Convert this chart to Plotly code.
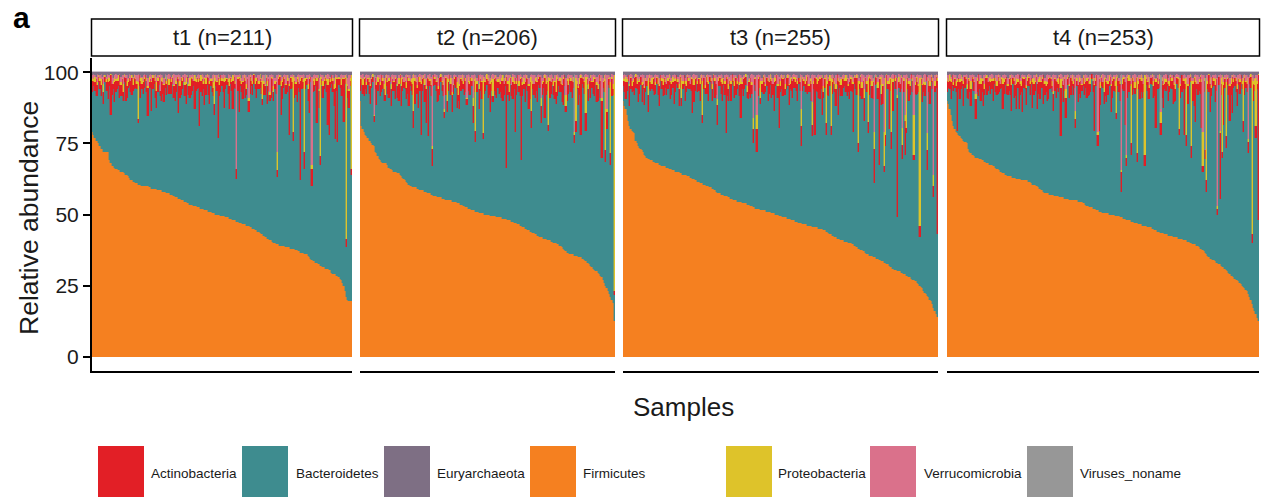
import plotly.graph_objects as go

# ---------------- data ----------------
facets = ["t1 (n=211)", "t2 (n=206)", "t3 (n=255)", "t4 (n=253)"]
phyla = ["Actinobacteria", "Bacteroidetes", "Euryarchaeota", "Firmicutes",
         "Proteobacteria", "Verrucomicrobia", "Viruses_noname"]
colors = {"Actinobacteria": "#E21F26", "Bacteroidetes": "#3E8C8F", "Euryarchaeota": "#7E6F84",
          "Firmicutes": "#F58020", "Proteobacteria": "#DEC32A", "Verrucomicrobia": "#DA718B",
          "Viruses_noname": "#979797"}

firm_t1 = [79,78,77,76,76,75,74,73,73,72, 72,72,72,72,69,68,67,67,66.5,66, 66,65.5,65.5,65,65,65,64.5,64,64,63.5,
           63,62,62,61.5,61.5,61,61,60.5,60.5,60.5, 60,60,60,60,60,60,59.5,59.5,59,59, 59,59,59,58.5,58.5,58.5,58.5,58,58,58,
           57.5,57.5,57.5,57,57,57,56.5,56,56,56, 55.5,55.5,55,55,55,54.5,54.5,54,54,53.5, 53.5,53.5,53,53,53,52.5,52.5,52.5,52,52,
           52,51.5,51.5,51.5,51,51,51,50.5,50.5,50.5, 50,50,50,50,49.5,49.5,49.5,49.5,49,49, 49,48.5,48.5,48.5,48,48,48,47.5,47.5,47,
           47,47,46.5,46.5,46.5,46,46,46,45.5,45.5, 45,45,44.5,44.5,44,44,43.5,43,43,42.5, 42,42,41.5,41.5,41,41,40.5,40,40,39.5,
           39.5,39.5,39,39,39,39,39,38.5,38.5,38.5, 38.5,38,38,38,38,37.5,37.5,37,37,36.5, 36.5,36.5,36,36,36,35.5,35,34.5,34,33.5,
           33.5,33,33,32.5,32.5,32,32,31.5,31.5,31, 31,31,30.5,30.5,29.5,29,29,29,28.5,28.5, 28,27.5,27,26,25,23,21,20,19.5,19.5,19.5]
actino_t1 = [4,2,3,6,4,2,3,4,2,4, 2,3,4,6,2,14,4,2,7,4, 3,2,8,4,6,3,2,8,4,2, 3,4,6,2,4,3,2,1.5,4,6,
             2,4,3,2,4,10,2,3,10,4, 2,6,6,4,3,2,7,4,6,3, 4,2,3,6,4,2,4,6,3,2, 12,4,6,3,2,4,7,2,3,4,
             6,4,2,10,3,4,2,17,4,6, 2,9,4,3,6,7,2,4,3,4, 2,3,21,4,6,2,4,9,3,2, 4,8,2,3,10,4,2,3.5,4,12,
             2,3,6,4,6,2,3,4,6,2, 4,3,2,6,4,2,3,4,2,4, 3,2,6,4,2,7,4,3,2,4, 2.3,2,3,10,6,4,2,3,4,2,
             17,4,2,3,6,4,8,2,3,35, 4,2,6,3,2,4,12,2,6,4, 2,3,15,4,6,3,2,4,3,2, 4,14,20,2,3,4,6,18,4,22,
             2,3,4,6,15,2,3,4,6,2, 2]
proteo_t1 = [1,0.5,2,0,1,0.5,1,2,0,3, 0.5,1,0,2,1,0.5,0,1,2,0.5, 1,2,0,1,0.5,3,1,0,2,1, 0.5,0,1,2,1,0.5,1,13,0,1,
             2,0.5,1,0,1,0.5,2,1,0.5,1, 0,2,3,1,0.5,0,1,2,0.5,1, 1,0.5,2,0,1,1,0.5,2,1,0, 1,2,0.5,1,0,1,2,0.5,1,3,
             0.5,1,0,2,1,0.5,1,0,2,1, 1,0.5,2,1,0,1,0.5,1,2,10, 1,0.5,1,2,0,1,0.5,2,1,0.5, 1,3,0.5,1,2,0,1,0,1,0.5,
             2,1,0.5,1,1,2,0,1,0.5,1, 1,0.5,2,1,0,1,2,0.5,8,1, 0.5,1,2,0,1,0.5,1,2,1,0.5, 6.5,1,0.5,2,1,0,1,0.5,2,1,
             1,0.5,2,20,1,0.5,1,2,0,1, 0.5,1,26,1,0.5,2,1,0,1.5,1, 2,0.5,1,1,0.5,28,1,2,0.5,1, 1,2,0.5,1,0,1,2,4,1,0.5,
             1,0.5,2,1,0.5,1,57,1,0.5,1, 33]
verruco_t1 = [1,2,0.5,1,3,0,1,2,1,3, 0,1,2,0.5,1,0,3,1,0.5,2, 1,0,0.5,2,1,3,0,1,2,0.5, 1,2,0,1,0.5,1,2,3,0,1,
              0.5,2,1,0,1,3,0.5,1,2,0, 1,0.5,2,1,0,6,1,0.5,2,1, 0,1,2,0.5,1,0,4,1,2,0.5, 1,2,0,1,0.5,3,1,0,2,1,
              0.5,1,2,0,1,0.5,2,1,0,1, 2,0.5,1,0,1,2,0.5,1,3,0, 1,2,0.5,1,0,1,2,0.5,1,0, 2,1,0.5,1,0,1,2,33,0.5,1,
              0,1,2,0.5,1,3,1,8,0.5,1, 2,0,1,0.5,1,2,0,1,0.5,2, 1,0,2,1,6,1,0.5,4,1,2, 27,1,0,2,1,0.5,1,3,0,1,
              2,0.5,1,0,1,2,0.5,1,3,1, 0.5,2,1,0,1,3,1,0.5,31,1, 2,0.5,1,0,4,1,0.5,2,1,0, 1,2,0.5,1,0,1,2,1,0.5,1,
              0,1,2,0.5,1,0,1,2,5,1, 0]
eury_t1 = [1,0.5,1,1.5,0.5,1,1,0.5,1.5,1, 1,1.5,0.5,1,1,0.5,1,2,1,0.5, 1,1,0.5,1.5,1,1,0.5,1,1,2, 0.5,1,1,1.5,0.5,1,1,0.5,1,1,
           1.5,1,0.5,1,1,2,1,0.5,1,1, 1,0.5,1.5,1,1,0.5,1,1,2,0.5, 1,1,0.5,1,1.5,1,0.5,1,1,1, 0.5,1,1.5,1,1,0.5,1,1,2,1,
           1,0.5,1,1,1.5,1,0.5,1,1,0.5, 1,1.5,1,0.5,1,1,2,1,0.5,1, 1,1,0.5,1.5,1,1,0.5,1,1,2, 0.5,1,1,1.5,1,0.5,1,1,1,0.5,
           1,2,1,0.5,1,1,1.5,1,0.5,1, 1,0.5,1,1.5,1,1,0.5,2,1,1, 0.5,1,1,1.5,1,0.5,1,1,2,1, 1,0.5,1,1,1.5,1,0.5,1,1,1,
           2,1,0.5,1,1,1.5,1,0.5,1,1, 1,0.5,1,2,1,1,0.5,1,1.5,1, 0.5,1,1,1,2,0.5,1,1,1.5,1, 1,0.5,1,1.5,1,1,2,0.5,1,1,
           1.5,1,0.5,1,1,1,0.5,2,1,1, 1]
viruses_t1 = {60: 2, 140: 3}

firm_t2 = [90,81,80,79,78,77.5,77,76,76,75, 74.5,74,72,71.5,70.5,69.5,69,68.5,68,68, 68,68,67.5,66.5,66,66,65.5,65,65,65,
           64.5,64.5,64,63.5,63,62.5,62,61.5,61,60.5, 60,60,59.5,59.5,59.5,59.5,59,59,58.5,58.5, 58.5,58.5,58,58,57.5,57.5,57.5,57,57,56.5,
           56.5,56.5,56,56,56,56,55.5,55.5,55.5,55, 55,55,55,55,54.5,54.5,54.5,54.5,54,54, 54,53.5,53.5,53,53,52.5,52.5,52,52,52,
           51.5,51.5,51.5,51,51,51,50.5,50.5,50.5,50.5, 50,50,50,50,50,49.5,49.5,49.5,49.5,49.5, 49,49,49,49,49,48.5,48.5,48.5,48.5,48,
           48,48,47.5,47.5,47,47,47,46.5,46.5,46, 46,45.5,45.5,45,45,44.5,44.5,44,44,43.5, 43.5,43,43,42.5,42.5,42,42,42,41.5,41.5,
           41.5,41,41,41,40.5,40.5,40,40,40,39.5, 39.5,39,39,38.5,38,37.5,37,36.5,36.5,36, 36,36,36,35.5,35.5,35.5,35,35,35,34.5,
           34.5,34,33.5,33,33,32.5,32,31.5,31,30.5, 30,30,29.5,29,28.5,28,27,26,25,24, 23,22,21,20,19,12.5]
actino_t2 = [4,2,3,6,4,3,2,4,6,3, 2,2,4,7,3,2,4,6,3,4, 2,3,4,6,2,6,4,3,7,2, 4,6,3,7,4,2,3,4,6,9,
             2,3,4,6,8,4,2,11,3,18, 4,2,6,12,3,20,2,4,6,4, 2,3,7,4,6,2,3,4,2,6, 4,3,2,4,6,3,2,4,7,2,
             8,4,3,2,6,4,2,3,4,6, 2,6,4,4,3,2,7,4,6,2, 4,3,2,6,4,10,3,2,4,6, 6,2,4,3,6,7,4,2,32,4,
             3,2,4,6,2,19,4,3,2,6, 29,4,2,7,3,4,8,6,6,2, 4,6,3,7,2,4,6,4,2,14, 4,3,2,6,4,2,3,6,4,6,
             2,4,3,6,9,4,2,7,3,2, 4,6,2,3,4,2,6,4,20,2, 3,4,6,2,4,3,7,2,4,6, 2,6,4,3,6,20,2,4,4,6,
             2,3,4,6,2,1.2]
proteo_t2 = [1,0.5,2,1,0,1,0.5,2,1,0.5, 1,0.5,0,1,2,0.5,1,0,1,2, 6,1,0.5,1,0,2,1,0.5,1,0, 1,2,0.5,3,1,0,1,2,0.5,1,
             0,1,2,13,1,0.5,1,0,2,1, 0.5,1,2,1,0,1,0.5,2,1,0, 1,0.5,2,1,0,1,0.5,2,1,0.5, 8,1,0,2,1,0.5,1,0,2,6,
             1,0.5,2,1,0,1,0.5,2,1,0, 1,3,0.5,19,1,0,2,1,0.5,20, 1,0.5,2,1,0,1,2,6,0.5,1, 0,1,2,0.5,1,2,0,1,0.5,1,
             5,1,0,2,1,0.5,1,0,2,1, 0.5,1,2,0,1,0.5,1,2,12,1, 0,1,2,0.5,1,0,3,1,0.5,1, 2,0.5,17,1,0,1,2,0.5,6,1,
             0,1,2,0.5,1,0,4,1,2,0.5, 1,0,2,1,15,1,0.5,2,1,0, 1,0.5,13,1,2,0,1,0.5,2,1, 0.5,1,2,0,1,1,0.5,2,25,1,
             0.5,1,25,1,2,76]
verruco_t2 = [0.5,1,2,0,1,3,1,0.5,2,1, 0,12,1,2,0.5,1,3,0,1,2, 1,0.5,2,1,0,3,1,2,0.5,1, 2,1,0,1,0.5,2,1,3,0,1,
              2,0.5,1,0,1,2,3,0.5,1,2, 1,0,2,3,1,0.5,2,1,25,0, 1,2,0.5,3,1,0,2,1,12,0.5, 1,2,0,1,5,3,1,0.5,2,1,
              3,1,0.5,2,1,0,8,1,2,0.5, 1,8,2,0.5,1,0,3,1,2,0.5, 1,2,0,1,3,1,0.5,2,1,0, 2,1,0.5,3,1,0,2,1,0.5,2,
              1,0,3,1,2,0.5,1,0,2,1, 0.5,2,1,3,0,1,2,0.5,1,2, 3,1,0,2,1,0.5,8,1,2,0.5, 1,2,0,1,3,0.5,1,2,0,1,
              2,0.5,1,3,1,0,6,1,2,0.5, 1,2,0,0.5,1,2,3,1,0.5,1, 0,2,1,0.5,3,1,0,2,1,0.5, 1,2,3,0.5,1,8,1,0,2,12,
              1,0.5,2,1,3,0]
eury_t2 = [1,1,0.5,1.5,1,0.5,1,1,2,1, 0.5,1,1,1.5,1,1,0.5,1,1,2, 1,0.5,1,1,1.5,1,0.5,1,1,1, 2,1,0.5,1,1,1.5,1,0.5,1,1,
           1,2,1,0.5,1,1,1.5,1,0.5,1, 1,1,0.5,2,1,1,0.5,1.5,1,1, 0.5,1,1,2,1,0.5,1,1.5,1,1, 1,0.5,1,1,2,1,0.5,1,1.5,1,
           1,1,0.5,1,1,2,1,0.5,1,1.5, 1,1,0.5,1,2,1,1,0.5,1,1, 1.5,1,0.5,1,1,2,1,0.5,1,1, 1,1.5,1,0.5,1,1,2,1,0.5,1,
           1,1,1.5,0.5,1,1,2,1,1,0.5, 1,1.5,1,0.5,1,1,2,1,0.5,1, 1,1,1.5,1,0.5,1,1,2,1,0.5, 1,1,1.5,1,0.5,1,2,1,1,0.5,
           1,1.5,1,1,0.5,1,2,1,0.5,1, 1,1,1.5,0.5,1,1,2,1,0.5,1, 1.5,1,0.5,1,1,2,1,1,0.5,1, 1,1.5,1,0.5,1,1,2,1,0.5,1,
           1,1,1.5,0.5,1,1]
viruses_t2 = {11: 2, 173: 20}

firm_t3 = [90,88,87,85,83,81,80,79.5,79,78.5, 76,75,74,73.5,73,72.5,72,71,70.5,70, 69.5,69.5,69,69,68.5,68.5,68,68,68,67.5,
           67.5,67,67,67,67,66.5,66.5,66,66,66, 65.5,65.5,65,65,65,65,64.5,64.5,64,64, 64,64,63.5,63.5,63,63,62.5,62.5,62,62,
           61.5,61.5,61,61,61,60.5,60.5,60,60,60, 59.5,59.5,59,59,58.5,58,57.5,57.5,57.5,57, 57,57,56.5,56.5,56.5,56,56,55.5,55.5,55,
           55,55,54.5,54.5,54.5,54.5,54,54,54,54, 53.5,53.5,53.5,53,53,52.5,52.5,52,52,52, 52,51.5,51.5,51.5,51.5,51.5,51,51,51,51,
           50.5,50.5,50.5,50,50,50,49.5,49.5,49.5,49, 49,49,49,48.5,48.5,48.5,48,48,48,47.5, 47.5,47.5,47,47,47,46.5,46.5,46.5,46.5,46,
           46,46,46,45.5,45.5,45.5,45.5,45.5,45,45, 45,45,44.5,44.5,44,44,43.5,43,43,42.5, 42.5,42,42,41.5,41.5,41.5,41,41,41,40.5,
           40.5,40.5,40,40,40,39.5,39.5,39,39,38.5, 38,38,37.5,37.5,37,37,36.5,36,36,35.5, 35.5,35.5,35,35,35,34.5,34.5,34,34,33.5,
           33.5,33,33,32.5,32.5,32,31.5,31.5,31,30.5, 30.5,30.5,30,30,30,29.5,29.5,29,29,28.5, 28.5,28,28,27.5,27,27,26.5,26.5,26,25.5,
           25,24.5,24,23,22.5,22,21.5,21,20,19.5, 18.5,17,16,15,14]
actino_t3 = [2,4,6,3,2,7,4,2,3,6, 4,2,7,4,3,6,2,6,4,2, 6,4,3,2,4,6,3,2,4,7, 2,3,4,6,2,4,3,2,6,4,
             2,8,4,3,2,6,4,3,2,4, 6,2,4,3,2,4,12,6,4,2, 3,4,6,2,3,4,2,6,4,6, 2,3,4,2,6,4,7,2,3,4,
             6,2,4,20,6,4,2,6,3,2, 4,6,2,3,4,12,2,6,4,3, 2,6,4,7,3,5,2,4,8,6, 4,2,3,6,4,2,3,7,4,2,
             6,4,10,2,3,4,17,2,4,6, 6,2,4,3,7,2,4,6,3,2, 4,6,2,3,7,4,2,3,4,6, 2,4,6,4,2,20,4,3,6,7,
             4,13,2,3,4,4,6,2,3,4, 2,3,6,4,12,2,4,6,3,2, 4,6,2,6,4,3,17,2,4,6, 3,2,7,4,6,8,2,3,4,6,
             2,4,6,12,3,2,4,30,2,4, 6,2,4,3,2,16,4,6,10,2, 3,4,42,2,3,4,5,4,12,2, 4,6,3,2,4,2,3,6,4,2,
             4,2,6,3,4,2,7,4,6,2, 3,4,2,4,54]
proteo_t3 = [1,0.5,2,1,0,1,0.5,2,1,0, 1,2,0.5,1,0,1,2,0.5,1,0, 6,1,0.5,2,1,0,1,0.5,2,1, 0,1,2,0.5,1,0,1,2,0.5,1,
             2,0.5,1,0,1,2,0.5,7,1,0, 1,2,0.5,1,0,1,0.5,2,1,0, 1,0.5,2,1,12,0,1,0.5,2,1, 0,1,2,0.5,1,0,2,1,0.5,1,
             2,0.5,1,0,1,2,0.5,1,0,1, 2,0.5,1,0,1,2,0.5,1,0,1, 2,0.5,1,0,1,4,0.5,1,5,1, 0,6,1,0.5,2,1,0,1,0.5,2,
             1,0,2,1,0.5,1,0,2,1,0.5, 1,2,0,1,0.5,2,1,0,1,2, 0.5,1,0,2,6,1,0.5,1,2,0, 1,0.5,2,8,1,0,1,2,0.5,1,
             0,1,2,0.5,17,1,0,2,17,1, 0.5,1,2,0,1,0.5,2,1,0,1, 2,0.5,1,0,1,2,0.5,1,0,1, 22,1,0.5,2,1,3,0,1,16,1,
             0.5,2,1,6,0,1,2,0.5,1,6, 1,12,20,0.5,1,2,0.5,19,1,0, 1,0.5,1,2,0,1,6,1,2,17, 0.5,1,2,0,1,14,1,0.5,2,1,
             52,1,0.5,2,1,0,6,1,2,0.5, 1,4,2,0.5,1]
verruco_t3 = [1,2,0.5,1,0,3,1,2,0.5,1, 0,1,2,1,0.5,3,1,4,0,2, 1,0.5,2,1,0,1,3,0.5,1,2, 0,1,2,0.5,1,3,1,0,2,1,
              0.5,2,1,0,1,3,0.5,1,2,0, 1,2,0.5,1,3,0,1,2,0.5,1, 2,0,1,0.5,2,1,3,0,1,2, 0.5,1,2,0,1,3,8,1,0.5,2,
              1,0,2,1,0.5,3,1,2,0,1, 2,0.5,1,0,3,1,2,0.5,1,0, 1,2,0.5,1,3,15,1,0,14,1, 0.5,2,1,0,1,3,0.5,1,2,0,
              1,2,0.5,1,0,3,1,2,0.5,1, 0,2,1,0.5,3,1,0,2,1,0.5, 1,2,0,1,12,0.5,1,2,0,1, 3,0.5,1,10,2,1,0,1,2,0.5,
              1,0,3,1,0.5,2,1,0,1,2, 0.5,1,3,0,1,2,1,0.5,2,1, 0,1,2,3,0.5,1,2,0,1,0.5, 2,1,0,3,1,5,0.5,2,1,0,
              1,2,0.5,18,1,0,2,1,0.5,1, 3,19,1,0,2,1,0.5,1,2,0, 1,0.5,6,1,3,0,18,1,14,2, 0.5,1,2,0,1,14,2,0.5,1,3,
              1,0.5,2,1,3,0,20,1,2,0.5, 1,34,2,0.5,1]
eury_t3 = [1,0.5,1,1.5,1,1,0.5,1,2,1, 0.5,1,1,1.5,1,0.5,1,1,2,1, 1,0.5,1,1,1.5,1,0.5,1,1,2, 1,1,0.5,1,1.5,1,1,0.5,1,2,
           1,0.5,1,1,1.5,1,0.5,1,1,1, 2,1,0.5,1,1,1.5,1,0.5,1,1, 1,2,1,0.5,1,1,1.5,1,0.5,1, 1,1,2,0.5,1,1,1.5,1,1,0.5,
           1,2,1,0.5,1,1,1.5,1,0.5,1, 1,1,2,1,0.5,1,1.5,1,1,0.5, 1,1,2,1,0.5,1,1,1.5,1,0.5, 1,1,2,1,0.5,1,1.5,1,1,0.5,
           1,2,1,1,0.5,1,1.5,1,0.5,1, 1,2,1,0.5,1,1,1.5,1,0.5,1, 1,1,2,0.5,1,1,1.5,1,1,0.5, 1,2,1,0.5,1,1,1.5,1,0.5,1,
           1,1,2,1,0.5,1,1.5,1,1,0.5, 1,2,1,0.5,1,1,1.5,1,0.5,1, 1,1,2,0.5,1,1,1.5,1,1,0.5, 1,2,1,0.5,1,1,1.5,1,0.5,1,
           1,1,2,1,0.5,1,1.5,1,1,0.5, 1,2,1,0.5,1,1,1.5,1,0.5,1, 1,1,2,0.5,1,1,1.5,1,1,0.5, 1,2,1,0.5,1,1,1.5,1,0.5,1,
           1,1,2,1,0.5,1,1.5,1,1,0.5, 1,2,1,0.5,1]
viruses_t3 = {100: 3, 203: 2}

firm_t4 = [90,89,87,85,83,81,80,79,78.5,78, 77.5,77,76.5,76,75.5,75.5,75,73,72,71.5, 71,71,70.5,70,70,70,69.5,69.5,69,69,
           68.5,68.5,68,68,67.5,67.5,67.5,67,67,66.5, 66,66,65.5,65,65,64.5,64.5,64,64,63.5, 63.5,63.5,63.5,63,63,63,62.5,62.5,62.5,62.5,
           62,62,62,62,62,62,61.5,61.5,61,60.5, 60.5,60.5,60,60,59.5,59,58.5,58.5,58,57.5, 57.5,57.5,57.5,57,57,57,57,56.5,56.5,56.5,
           56.5,56,56,56,56,55.5,55.5,55.5,55.5,55, 55,55,55,55,55,55,54.5,54.5,54.5,54.5, 54,54,53.5,53,53,52.5,52.5,52.5,52,52,
           52,51.5,51.5,51,51,51,50.5,50.5,50.5,50.5, 50.5,50,50,50,50,50,49.5,49.5,49.5,49.5, 49,49,49,48.5,48.5,48,48,48,48,47.5,
           47.5,47.5,47,47,47,46.5,46.5,46.5,46,46, 46,46,45.5,45.5,45.5,45.5,45,45,44.5,44.5, 44,44,44,43.5,43.5,43.5,43,43,43,42.5,
           42.5,42.5,42.5,42,42,42,42,41.5,41.5,41.5, 41.5,41,41,41,41,40.5,40.5,40,40,39.5, 39.5,39.5,39,39,38.5,38,38,37.5,37,36.5,
           36,35.5,35,34.5,34.5,34,34,33.5,33,33, 32.5,32.5,32,31.5,31.5,31,30.5,30,29.5,29, 28.5,28.5,28,27.5,27,27,26.5,26,25.5,25,
           24.5,24,23.5,23,22,21,20,18.5,17,16, 15,13.5,12.5]
actino_t4 = [4,2,3,6,4,2,3,2,17,4, 6,3,2,8,4,2,3,7,4,6, 2,4,3,7,4,8,2,6,4,9, 2,4,6,3,2,4,3,7,2,4,
             3,6,4,2,3,9,4,2,6,3, 4,6,9,2,6,4,9,2,12,4, 2,12,3,4,6,2,3,4,2,9, 4,3,2,9,4,6,2,3,10,4,
             2,6,7,4,3,2,6,4,6,2, 3,4,17,2,6,4,7,2,3,4, 6,2,4,3,3,2,6,4,6,2, 3,4,2,6,6,4,3,2,4,16,
             2,4,4,18,6,3,2,4,6,7, 4,2,3,9,6,4,2,2,3,4, 6,7,2,4,15,3,7,4,2,4, 6,3,2,4,3,2,7,4,6,3,
             4,2,3,6,4,2,3,4,6,16, 4,2,3,4,6,8,2,3,4,6, 2,4,3,10,6,4,2,3,2,4, 6,3,19,2,4,6,3,2,4,6,
             10,14,2,4,3,6,16,2,4,3, 4,2,6,10,3,4,2,6,4,2, 3,23,4,2,14,3,4,2,6,12, 4,13,2,3,4,6,2,4,3,2,
             4,6,2,3,4,2,4,3,6,2, 4,2,51]
proteo_t4 = [1,0.5,2,1,0,1,0.5,2,1,0, 1,2,0.5,1,0,1,2,0.5,1,3, 0,1,0.5,2,1,0,1,2,0.5,1, 2,0.5,1,0,1,2,0.5,1,0,1,
             2,0.5,1,0,1,2,1,0.5,0,1, 0.5,1,2,0,1,0.5,2,1,0,1, 2,0.5,1,0,1,2,0.5,1,0,1, 2,0.5,1,0,1,2,0.5,1,0,1,
             2,0.5,1,0,1,2,1,0.5,0,1, 2,0.5,3,1,0,1,3,1,0.5,1, 0,2,1,0.5,3,1,0,2,1,0.5, 1,2,0,1,0.5,1,2,0,1,0.5,
             1,0,1,0.5,2,1,0,5,1,0.5, 1,2,0,1,0.5,1,2,13,1,0, 1,0.5,2,1,0,1,0.5,2,1,21, 0.5,1,2,0,27,1,0.5,2,1,0,
             28,1,0.5,2,1,0,1,2,0.5,1, 0,1,2,4,1,0.5,2,1,0,1, 2,0.5,1,0,1,2,0.5,1,18,1, 0,1,0.5,2,20,1,0,1,23,1,
             0.5,2,1,0,1,0.5,1,12,1,0, 36,1,0.5,2,1,0,1,2,0.5,1, 0,1,2,27,1,0.5,19,1,0,1, 2,0.5,1,0,1,2,0.5,1,0,1,
             15,1,0.5,2,1,0,1,55,1,2, 17,1,0.5]
verruco_t4 = [1,2,0.5,1,0,3,1,2,0.5,1, 2,0,1,2,0.5,1,3,0,1,2, 1,0.5,2,6,1,0,2,1,0.5,1, 3,1,0,2,1,0.5,2,1,0,1,
              2,0.5,1,3,0,1,2,1,0.5,2, 1,0,2,1,0.5,3,1,2,0,1, 2,1,0.5,1,3,0,1,2,1,0.5, 1,2,0,3,1,0.5,2,1,0,1,
              2,3,0.5,1,0,2,6,1,2,0.5, 1,0,2,1,3,0.5,5,1,0,2, 1,0.5,2,1,12,1,4,0.5,1,2, 0,1,3,1,0.5,2,1,0,1,2,
              1,0.5,20,1,2,0,3,1,0.5,1, 2,0,1,3,1,0.5,2,1,0,1, 2,30,1,0.5,2,28,1,0,1,2, 0.5,1,3,1,0,2,1,0.5,1,2,
              0,1,2,0.5,3,1,0,2,1,0.5, 1,2,0,1,0.5,3,1,2,0,1, 2,0.5,1,0,2,3,1,0.5,1,2, 0,1,2,1,0.5,3,1,0,2,1,
              0.5,1,2,3,1,0,2,20,1,0.5, 1,2,0,1,3,0.5,1,2,1,45, 0.5,20,1,0,2,1,3,0.5,1,2, 1,0,2,1,0.5,3,1,2,0,1,
              1,0.5,2,1,22,1,0,1,2,0.5, 1,2,0]
eury_t4 = [1,1,0.5,1.5,1,0.5,1,1,2,1, 0.5,1,1.5,1,1,0.5,1,2,1,1, 0.5,1,1,1.5,1,0.5,1,1,2,1, 1,0.5,1,1.5,1,1,0.5,1,2,1,
           1,0.5,1,1,1.5,1,0.5,1,1,2, 1,1,0.5,1,1.5,1,1,0.5,1,2, 1,0.5,1,1,1.5,1,0.5,1,1,2, 1,1,0.5,1,1.5,1,1,0.5,1,2,
           1,0.5,1,1,1.5,1,0.5,1,1,2, 1,1,0.5,1,1.5,1,1,0.5,1,2, 1,0.5,1,1,1.5,1,0.5,1,1,2, 1,1,0.5,1,1.5,1,1,0.5,1,2,
           1,0.5,1,1,1.5,1,0.5,1,1,2, 1,1,0.5,1,1.5,1,1,0.5,1,2, 1,0.5,1,1,1.5,1,0.5,1,1,2, 1,1,0.5,1,1.5,1,1,0.5,1,2,
           1,0.5,1,1,1.5,1,0.5,1,1,2, 1,1,0.5,1,1.5,1,1,0.5,1,2, 1,0.5,1,1,1.5,1,0.5,1,1,2, 1,1,0.5,1,1.5,1,1,0.5,1,2,
           1,0.5,1,1,1.5,1,0.5,1,1,2, 1,1,0.5,1,1.5,1,1,0.5,1,2, 1,0.5,1,1,1.5,1,0.5,1,1,2, 1,1,0.5,1,1.5,1,1,0.5,1,2,
           1,0.5,1,1,1.5,1,0.5,1,1,2, 1,1,0.5]
viruses_t4 = {141: 4, 173: 12, 209: 25}

firm = [firm_t1, firm_t2, firm_t3, firm_t4]
actino = [actino_t1, actino_t2, actino_t3, actino_t4]
proteo = [proteo_t1, proteo_t2, proteo_t3, proteo_t4]
verruco = [verruco_t1, verruco_t2, verruco_t3, verruco_t4]
eury = [eury_t1, eury_t2, eury_t3, eury_t4]
viruses = [viruses_t1, viruses_t2, viruses_t3, viruses_t4]
n_samples = [211, 206, 255, 253]

for k in range(4):
    for arr in (firm[k], actino[k], proteo[k], verruco[k], eury[k]):
        assert len(arr) == n_samples[k], (k, len(arr))

# ---------------- layout helpers (pixel geometry) ----------------
W, H = 1266, 497
ML, MR, MT, MB = 92, 7, 58, 126
PW = W - ML - MR
PH = H - MT - MB

def px(x):
    return (x - ML) / PW

def py(y):
    return (H - MB - y) / PH

panel_px = [(92, 352), (360, 615), (623, 938), (947, 1259)]
FONT = "Liberation Sans, Arial, Helvetica, sans-serif"

fig = go.Figure()
stack_order = ["Firmicutes", "Bacteroidetes", "Actinobacteria", "Proteobacteria",
               "Verrucomicrobia", "Viruses_noname", "Euryarchaeota"]

for k in range(4):
    n = n_samples[k]
    xs = list(range(n))
    vir = [viruses[k].get(i, 0) for i in range(n)]
    bact = [max(0.0, 100 - firm[k][i] - actino[k][i] - proteo[k][i] - verruco[k][i] - eury[k][i] - vir[i])
            for i in range(n)]
    series = {"Firmicutes": firm[k], "Bacteroidetes": bact, "Actinobacteria": actino[k],
              "Proteobacteria": proteo[k], "Verrucomicrobia": verruco[k],
              "Viruses_noname": vir, "Euryarchaeota": eury[k]}
    xa = "x" if k == 0 else f"x{k+1}"
    for name in stack_order:
        fig.add_trace(go.Bar(
            x=xs, y=series[name], xaxis=xa, yaxis="y", name=name,
            marker=dict(color=colors[name], line=dict(color=colors[name], width=0.4)),
            showlegend=False, width=1.0,
        ))

layout = dict(
    width=W, height=H,
    margin=dict(l=ML, r=MR, t=MT, b=MB, pad=0),
    paper_bgcolor="white", plot_bgcolor="white",
    barmode="stack", bargap=0,
    font=dict(family=FONT, color="#1a1a1a"),
    yaxis=dict(range=[-5, 105], domain=[0, 1], tickvals=[0, 25, 50, 75, 100],
               ticktext=["0", "25", "50", "75", "100"], showgrid=False, zeroline=False,
               showline=True, linecolor="black", linewidth=2, ticks="outside",
               ticklen=7, tickwidth=2, tickcolor="black",
               tickfont=dict(size=21, family=FONT, color="#1a1a1a"), anchor="x"),
)
for k in range(4):
    key = "xaxis" if k == 0 else f"xaxis{k+1}"
    x0, x1 = panel_px[k]
    layout[key] = dict(domain=[px(x0), px(x1)], range=[-0.5, n_samples[k] - 0.5],
                       showgrid=False, zeroline=False, showticklabels=False, ticks="",
                       showline=True, linecolor="black", linewidth=2, anchor="y")
fig.update_layout(**layout)

shapes = []
annotations = []
# facet strips
for k in range(4):
    x0, x1 = panel_px[k]
    shapes.append(dict(type="rect", xref="paper", yref="paper",
                       x0=px(x0 - 0.5), x1=px(x1 + 0.5), y0=py(56), y1=py(19),
                       line=dict(color="black", width=1.5), fillcolor="white", layer="above"))
    annotations.append(dict(text=facets[k], xref="paper", yref="paper",
                            x=px((x0 + x1) / 2), y=py(37.5), xanchor="center", yanchor="middle",
                            showarrow=False, font=dict(size=22, family=FONT, color="#1a1a1a")))

# axis titles & panel tag
annotations.append(dict(text="Relative abundance", xref="paper", yref="paper",
                        x=px(29), y=py(218), textangle=-90, xanchor="center", yanchor="middle",
                        showarrow=False, font=dict(size=26.5, family=FONT, color="#1a1a1a")))
annotations.append(dict(text="Samples", xref="paper", yref="paper",
                        x=px(683), y=py(407), xanchor="center", yanchor="middle",
                        showarrow=False, font=dict(size=26, family=FONT, color="#1a1a1a")))
annotations.append(dict(text="<b>a</b>", xref="paper", yref="paper",
                        x=px(11), y=py(18), xanchor="left", yanchor="middle",
                        showarrow=False, font=dict(size=30, family=FONT, color="black")))

# legend (large swatches like the original)
legend_sw = [98, 242, 384, 530, 726, 870, 1027]
legend_tx = [149, 294, 435, 581, 776, 922, 1078]
for name, sx, tx in zip(phyla, legend_sw, legend_tx):
    shapes.append(dict(type="rect", xref="paper", yref="paper",
                       x0=px(sx), x1=px(sx + 46), y0=py(497), y1=py(446),
                       line=dict(width=0), fillcolor=colors[name]))
    annotations.append(dict(text=name, xref="paper", yref="paper",
                            x=px(tx), y=py(473), xanchor="left", yanchor="middle",
                            showarrow=False, font=dict(size=13.5, family=FONT, color="#1a1a1a")))

fig.update_layout(shapes=shapes, annotations=annotations)
fig.write_html("out.html")
